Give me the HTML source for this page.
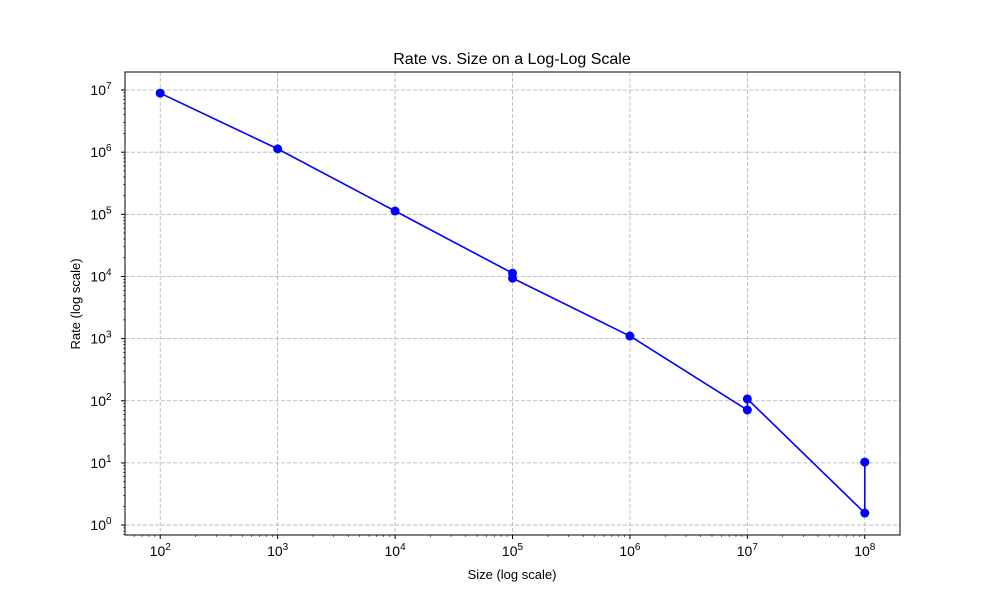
<!DOCTYPE html>
<html><head><meta charset="utf-8"><style>body{margin:0;background:#fff}svg{display:block;font-family:"Liberation Sans",sans-serif}</style></head>
<body>
<svg id="chart" width="1000" height="600"></svg>
<script>
const sizes=[1e2,1e3,1e4,1e5,1e5,1e6,1e7,1e7,1e8,1e8];
const rates=[8.9e6,1.13e6,1.13e5,1.13e4,9.4e3,1.1e3,71,107,1.56,10.3];
const xTickExps=[2,3,4,5,6,7,8];
const yTickExps=[0,1,2,3,4,5,6,7];
const L=125,R=900,T=72,B=535;
const xmin=1.70,xmax=8.30,ymin=-0.16,ymax=7.29;
const sx=v=>L+(Math.log10(v)-xmin)/(xmax-xmin)*(R-L);
const sy=v=>B-(Math.log10(v)-ymin)/(ymax-ymin)*(B-T);
const svg=document.getElementById('chart');const NS='http://www.w3.org/2000/svg';
function mk(t,a,p){const e=document.createElementNS(NS,t);for(const k in a)e.setAttribute(k,a[k]);(p||svg).appendChild(e);return e;}
function txt(x,y,s,anchor,size){const e=mk('text',{x:x,y:y,'text-anchor':anchor,'font-size':size,fill:'#000'});e.textContent=s;return e;}
function sup(x,y,e,anchor){const t=mk('text',{x:x,y:y,'text-anchor':anchor,'font-size':14,fill:'#000'});t.textContent='10';const s=mk('tspan',{dy:-6,'font-size':10},t);s.textContent=e;return t;}
xTickExps.forEach(e=>{const x=sx(Math.pow(10,e));
const g=mk('line',{x1:x,x2:x,y1:T,y2:B,stroke:'#b0b0b0','stroke-dasharray':'4,2','stroke-width':0.8});

mk('line',{x1:x,x2:x,y1:B,y2:B+4,stroke:'#000'});
const l=sup(x,B+21,e,'middle');});
yTickExps.forEach(e=>{const y=sy(Math.pow(10,e));
const g=mk('line',{x1:L,x2:R,y1:y,y2:y,stroke:'#b0b0b0','stroke-dasharray':'4,2','stroke-width':0.8});

mk('line',{x1:L-4,x2:L,y1:y,y2:y,stroke:'#000'});
const l=sup(L-24,y+5,e,'middle');});
for(let e=1;e<=8;e++)for(let m=2;m<=9;m++){const v=m*Math.pow(10,e);const lv=Math.log10(v);if(lv>xmin&&lv<xmax){const x=sx(v);mk('line',{x1:x,x2:x,y1:B,y2:B+2,stroke:'#000','stroke-width':0.6});}}
for(let e=-1;e<=7;e++)for(let m=2;m<=9;m++){const v=m*Math.pow(10,e);const lv=Math.log10(v);if(lv>ymin&&lv<ymax){const y=sy(v);mk('line',{x1:L-2,x2:L,y1:y,y2:y,stroke:'#000','stroke-width':0.6});}}
const pts=sizes.map((s,i)=>sx(s)+','+sy(rates[i])).join(' ');
const line=mk('polyline',{points:pts,fill:'none',stroke:'#0000ff','stroke-width':1.6});

sizes.forEach((s,i)=>{const c=mk('circle',{cx:sx(s),cy:sy(rates[i]),r:4.5,fill:'#0000ff'});
});
const f=mk('rect',{x:L,y:T,width:R-L,height:B-T,fill:'none',stroke:'#000','stroke-width':1});

const ti=txt(512,64,'Rate vs. Size on a Log-Log Scale','middle',16);
const xl=txt(512,579,'Size (log scale)','middle',13);
const yl=txt(0,0,'Rate (log scale)','middle',13);yl.setAttribute('transform','translate(80,304) rotate(-90)');
</script>
</body></html>
